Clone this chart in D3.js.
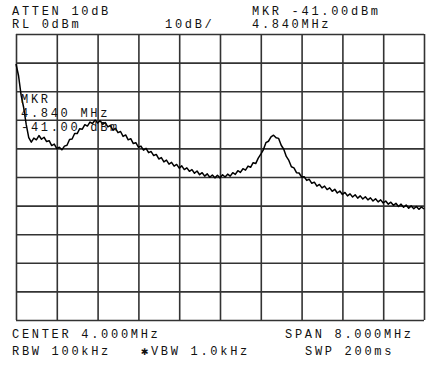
<!DOCTYPE html>
<html>
<head>
<meta charset="utf-8">
<script src="https://cdn.jsdelivr.net/npm/d3@7"></script>
<style>
  body { margin: 0; background: #fff; }
  svg text { font-family: "Liberation Mono", "DejaVu Sans Mono", monospace; font-size: 12px; letter-spacing: 2.7px; fill: #111; }
  .grid line { stroke: #333; stroke-width: 1.6; }
  .grid path { display: none; }
</style>
</head>
<body>
<svg id="sa" width="435" height="369"></svg>
<script>
// analyzer settings
var startMHz = 0, stopMHz = 8, stepMHz = 0.05;
var refLevel = 0, dbPerDiv = 10, divisions = 10;

// trace, dBm, one point every 0.05 MHz from 0 to 8 MHz
var traceDbm = [
  -10.5,-14.6,-21.4,-25.7,-31.6,-36.2,-37.8,-36.4,-37.0,-35.5,
  -36.8,-36.1,-37.6,-37.3,-39.0,-38.5,-40.1,-39.6,-40.5,-39.2,
  -38.9,-36.9,-36.7,-34.8,-34.8,-33.1,-33.3,-31.7,-32.2,-30.8,
  -31.3,-30.1,-31.1,-30.3,-31.6,-31.0,-32.5,-32.0,-33.6,-33.0,
  -34.5,-34.1,-35.8,-35.3,-37.0,-36.6,-38.3,-38.0,-39.6,-39.2,
  -40.6,-40.0,-41.5,-41.1,-42.5,-42.1,-43.7,-43.2,-44.7,-44.1,
  -45.5,-44.9,-46.2,-45.6,-46.9,-46.1,-47.4,-46.8,-48.0,-47.4,
  -48.7,-47.9,-49.2,-48.5,-49.7,-48.9,-50.1,-49.3,-50.3,-49.4,
  -50.3,-49.2,-50.0,-49.0,-49.7,-48.5,-49.1,-47.8,-48.4,-47.1,
  -47.6,-46.2,-46.6,-45.0,-45.3,-43.4,-42.0,-40.5,-38.0,-37.5,
  -36.0,-35.4,-36.3,-36.5,-38.9,-40.3,-42.8,-44.2,-46.4,-46.8,
  -48.5,-48.6,-50.0,-49.9,-51.2,-50.8,-52.2,-51.8,-53.2,-52.6,
  -53.8,-53.2,-54.4,-53.8,-55.0,-54.3,-55.6,-54.9,-56.1,-55.4,
  -56.6,-55.9,-57.0,-56.2,-57.4,-56.6,-57.7,-56.9,-58.0,-57.3,
  -58.4,-57.6,-58.7,-58.0,-59.1,-58.4,-59.5,-58.8,-59.9,-59.2,
  -60.3,-59.5,-60.6,-59.8,-60.9,-60.1,-61.1,-60.3,-61.3,-60.5,
  -61.2
];

var headerLines = [
  { t: "ATTEN 10dB", x: 12, y: 15 },
  { t: "RL 0dBm", x: 12, y: 28 },
  { t: "10dB/", x: 165, y: 28 },
  { t: "MKR -41.00dBm", x: 252, y: 15 },
  { t: "4.840MHz", x: 252, y: 28 }
];
var footerLines = [
  { t: "CENTER 4.000MHz", x: 12, y: 338 },
  { t: "SPAN 8.000MHz", x: 285, y: 338 },
  { t: "RBW 100kHz", x: 12, y: 355 },
  { t: "\u2731VBW 1.0kHz", x: 141, y: 355 },
  { t: "SWP 200ms", x: 305, y: 355 }
];
var markerLabel = ["MKR", "4.840 MHz", "-41.00 dBm"];

var plot = { left: 16, right: 424, top: 34, bottom: 320 };

var x = d3.scaleLinear().domain([startMHz, stopMHz]).range([plot.left, plot.right]);
var y = d3.scaleLinear().domain([refLevel - dbPerDiv * divisions, refLevel]).range([plot.bottom, plot.top]);

var svg = d3.select("#sa");

// graticule
var xTicks = d3.range(divisions + 1).map(function(i) { return startMHz + i * (stopMHz - startMHz) / divisions; });
var yTicks = d3.range(divisions + 1).map(function(i) { return refLevel - i * dbPerDiv; });

svg.append("g")
    .attr("class", "grid")
    .attr("transform", "translate(0," + plot.bottom + ")")
    .call(d3.axisBottom(x).tickValues(xTicks).tickSize(-(plot.bottom - plot.top)).tickFormat(""));
svg.append("g")
    .attr("class", "grid")
    .attr("transform", "translate(" + plot.left + ",0)")
    .call(d3.axisLeft(y).tickValues(yTicks).tickSize(-(plot.right - plot.left)).tickFormat(""));

// trace
var line = d3.line()
    .x(function(d, i) { return x(startMHz + i * stepMHz); })
    .y(function(d) { return y(d); });

svg.append("path")
    .datum(traceDbm)
    .attr("d", line)
    .attr("fill", "none")
    .attr("stroke", "#000")
    .attr("stroke-width", 1.5)
    .attr("stroke-linejoin", "round");

// marker readout inside the graticule
svg.selectAll("text.mkr")
    .data(markerLabel)
    .enter().append("text")
    .attr("class", "mkr")
    .attr("x", 21)
    .attr("y", function(d, i) { return 103 + i * 14; })
    .text(function(d) { return d; });

svg.selectAll("text.hdr")
    .data(headerLines.concat(footerLines))
    .enter().append("text")
    .attr("class", "hdr")
    .attr("x", function(d) { return d.x; })
    .attr("y", function(d) { return d.y; })
    .text(function(d) { return d.t; });
</script>
</body>
</html>
